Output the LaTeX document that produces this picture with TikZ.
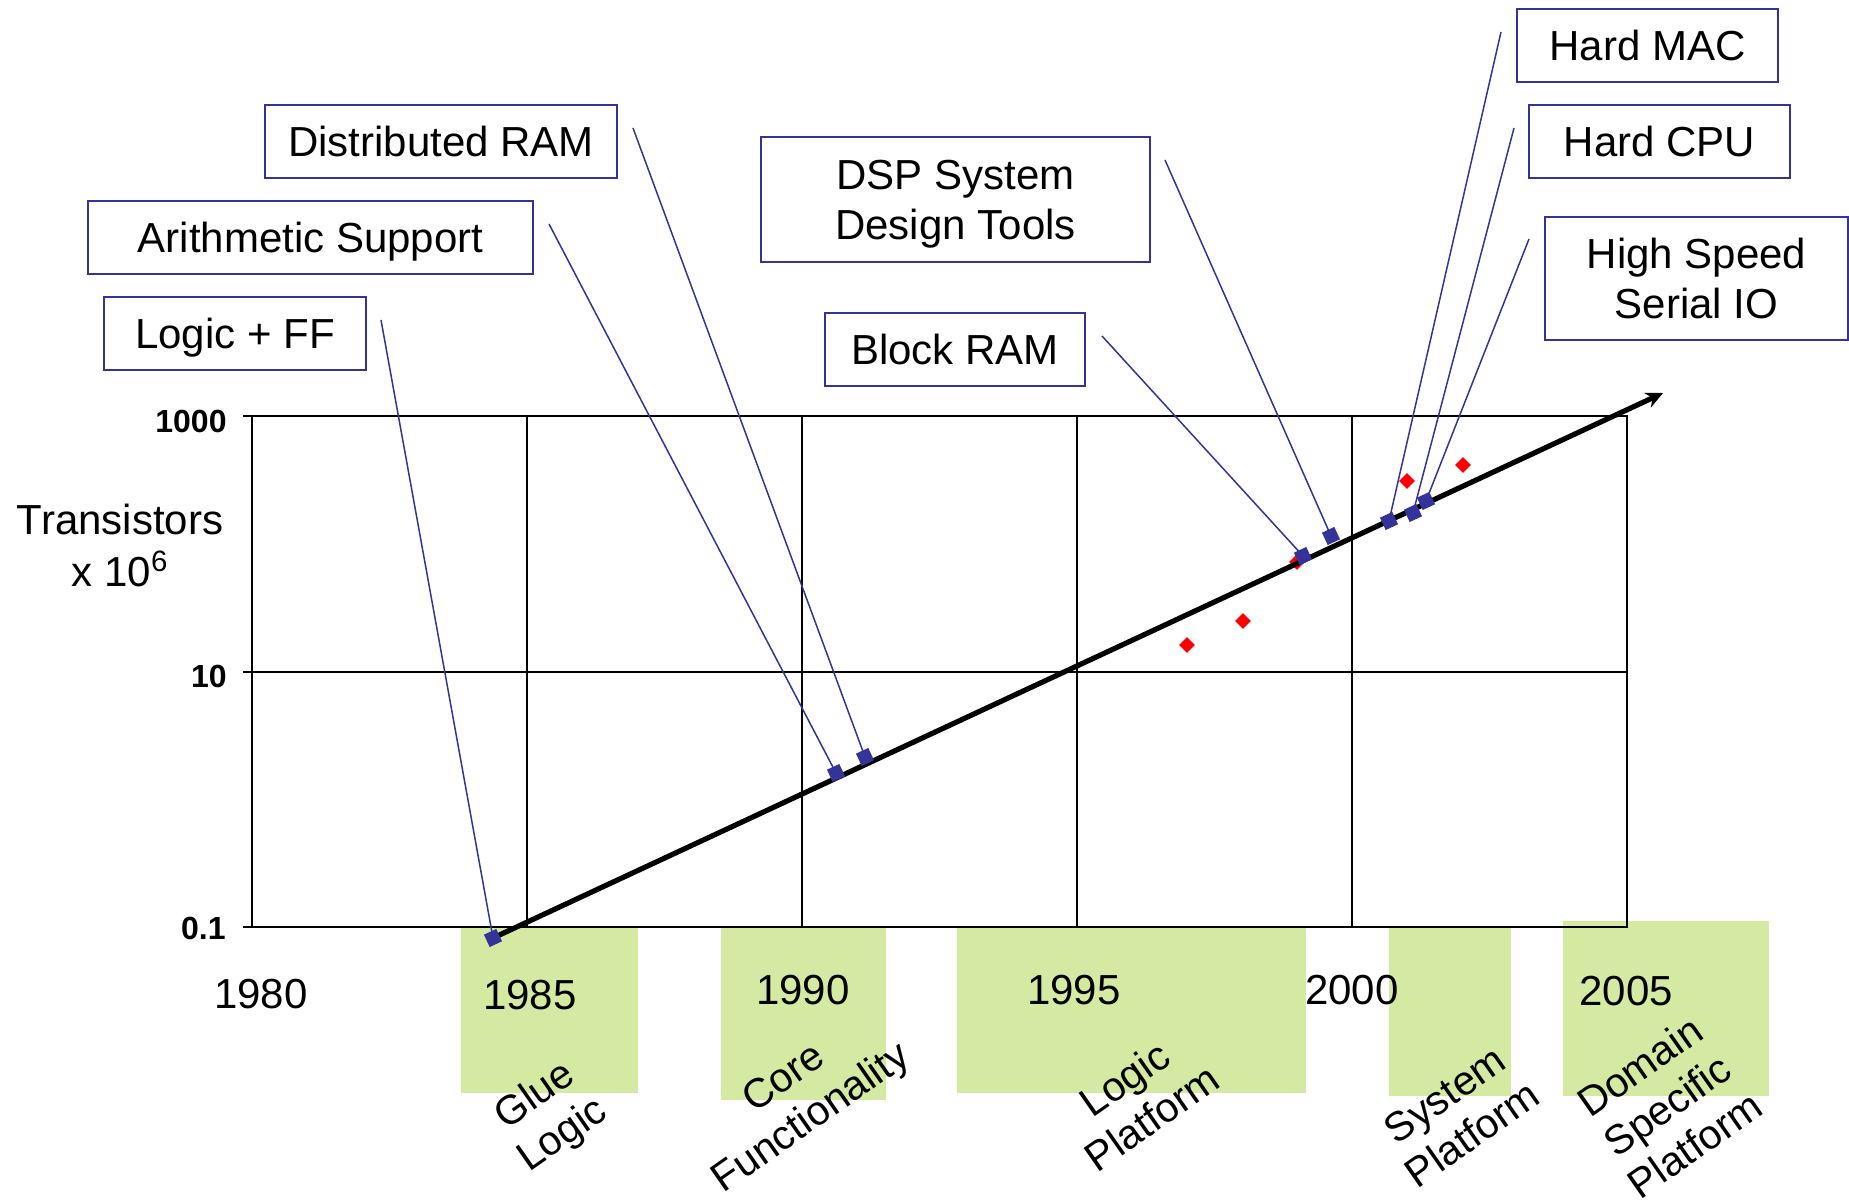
\documentclass[tikz,border=0pt]{standalone}
\usepackage{fontspec}
\setmainfont{Liberation Sans}
\usetikzlibrary{arrows.meta}

\definecolor{navy}{RGB}{51,51,153}
\definecolor{erafill}{RGB}{212,234,162}
\definecolor{samplered}{RGB}{255,0,0}

\pgfdeclarelayer{backdrop}
\pgfdeclarelayer{wires}
\pgfsetlayers{backdrop,wires,main}

\begin{document}
\begin{tikzpicture}[x=0.5pt,y=-0.5pt,
  callout/.style={draw=navy, line width=0.85pt, inner sep=0pt, align=center,
    font=\fontsize{21}{25}\selectfont, text height=15pt, text depth=0pt},
  leader/.style={draw=navy, line width=0.75pt},
  chip/.style={fill=navy, draw=none, rectangle, minimum size=6.8pt, inner sep=0pt, rotate=25},
  sample/.style={fill=samplered, draw=none, rectangle, minimum size=5.5pt, inner sep=0pt, rotate=45},
  era/.style={fill=erafill, draw=none},
  year/.style={font=\fontsize{21}{25}\selectfont, inner sep=0pt},
  phase/.style={font=\fontsize{20.5}{24}\selectfont, align=center, rotate=35,
    inner sep=0pt, text depth=0pt},
  gridline/.style={line width=0.7pt},
  frame/.style={line width=1.1pt},
  decade/.style={font=\bfseries\fontsize{16}{19}\selectfont, anchor=east, inner sep=0pt},
  trend/.style={line width=2.6pt, -{Stealth[length=8.5pt,width=8pt]}}
]
\useasboundingbox (0,0) rectangle (1849,1203);

% ---- shaded eras, plot frame, grid and sample points ----
\begin{pgfonlayer}{backdrop}
  \fill[era] (461,928) rectangle (638,1093);
  \fill[era] (721,928) rectangle (886,1100);
  \fill[era] (957,928) rectangle (1306,1093);
  \fill[era] (1389,928) rectangle (1511,1096);
  \fill[era] (1563,921) rectangle (1769,1096);

  \foreach \gx in {527,802,1077,1352}
    \draw[gridline] (\gx,416) -- (\gx,927);
  \draw[gridline] (243,672) -- (1627,672);
  \draw[gridline] (243,416) -- (252,416);
  \draw[gridline] (243,927) -- (252,927);
  \draw[frame] (252,416) rectangle (1627,927);

  \node[sample] (r1) at (1187,645) {};
  \node[sample] (r2) at (1243,621) {};
  \node[sample] (r3) at (1297,562) {};
  \node[sample] (r4) at (1407,481) {};
  \node[sample] (r5) at (1463,465) {};
\end{pgfonlayer}

% ---- axis labels ----
\node[decade] (d1000) at (227,421) {1000};
\node[decade] (d10) at (227,676) {10};
\node[decade] (d01) at (226,928) {0.1};
\node[align=center, inner sep=0pt, font=\fontsize{21}{26}\selectfont,
  text height=41pt, text depth=0pt] (ytitle) at (120,546) {Transistors\\x 10\textsuperscript{6}};

\node[year] (y1980) at (261,994) {1980};
\node[year] (y1985) at (530,995) {1985};
\node[year] (y1990) at (803,990) {1990};
\node[year] (y1995) at (1074,990) {1995};
\node[year] (y2000) at (1352,990) {2000};
\node[year] (y2005) at (1626,991) {2005};

% ---- design eras ----
\node[phase, text height=38.7pt] (glue) at (547,1113) {Glue\\Logic};
\node[phase, text height=38.7pt] (core) at (796,1096) {Core\\Functionality};
\node[phase, text height=38.7pt] (logicp) at (1138,1098) {Logic\\Platform};
\node[phase, text height=38.7pt] (systemp) at (1458,1114) {System\\Platform};
\node[phase, text height=62.7pt] (domainp) at (1667,1105) {Domain\\Specific\\Platform};

% ---- feature milestones on the trend ----
\node[chip] (m1) at (493,938) {};
\node[chip] (m2) at (836,773) {};
\node[chip] (m3) at (865,757) {};
\node[chip] (m4) at (1303,556) {};
\node[chip] (m5) at (1331,536) {};
\node[chip] (m6) at (1389,521) {};
\node[chip] (m7) at (1413,513) {};
\node[chip] (m8) at (1426,501) {};
\coordinate (tip) at (1663,393);

% ---- feature callouts ----
\node[callout, minimum width=131pt, minimum height=36.5pt] (logicff) at (235,333.5) {Logic + FF};
\node[callout, minimum width=222.5pt, minimum height=36.5pt] (arith) at (310.5,237.5) {Arithmetic Support};
\node[callout, minimum width=176pt, minimum height=36.5pt] (dram) at (441,141.5) {Distributed RAM};
\node[callout, minimum width=194.5pt, minimum height=62.5pt, text height=40pt] (dsp) at (955.5,199.5) {DSP System\\Design Tools};
\node[callout, minimum width=130pt, minimum height=36.5pt] (bram) at (955,349.5) {Block RAM};
\node[callout, minimum width=130.5pt, minimum height=36.5pt] (mac) at (1647.5,45.5) {Hard MAC};
\node[callout, minimum width=130.5pt, minimum height=36.5pt] (cpu) at (1659.5,141.5) {Hard CPU};
\node[callout, minimum width=151.5pt, minimum height=61.5pt, text height=40pt] (serial) at (1696.5,278.5) {High Speed\\Serial IO};

\coordinate (s1) at (381,320);
\coordinate (s2) at (549,224);
\coordinate (s3) at (633,128);
\coordinate (s4) at (1102,336);
\coordinate (s5) at (1165,160);
\coordinate (s6) at (1501,32);
\coordinate (s7) at (1514,128);
\coordinate (s8) at (1529,239);

\begin{pgfonlayer}{wires}
  \draw[trend] (m1.center) -- (tip);
  \draw[leader] (s1) -- (m1.center);
  \draw[leader] (s2) -- (m2.center);
  \draw[leader] (s3) -- (m3.center);
  \draw[leader] (s4) -- (m4.center);
  \draw[leader] (s5) -- (m5.center);
  \draw[leader] (s6) -- (m6.center);
  \draw[leader] (s7) -- (m7.center);
  \draw[leader] (s8) -- (m8.center);
\end{pgfonlayer}
\end{tikzpicture}
\end{document}
